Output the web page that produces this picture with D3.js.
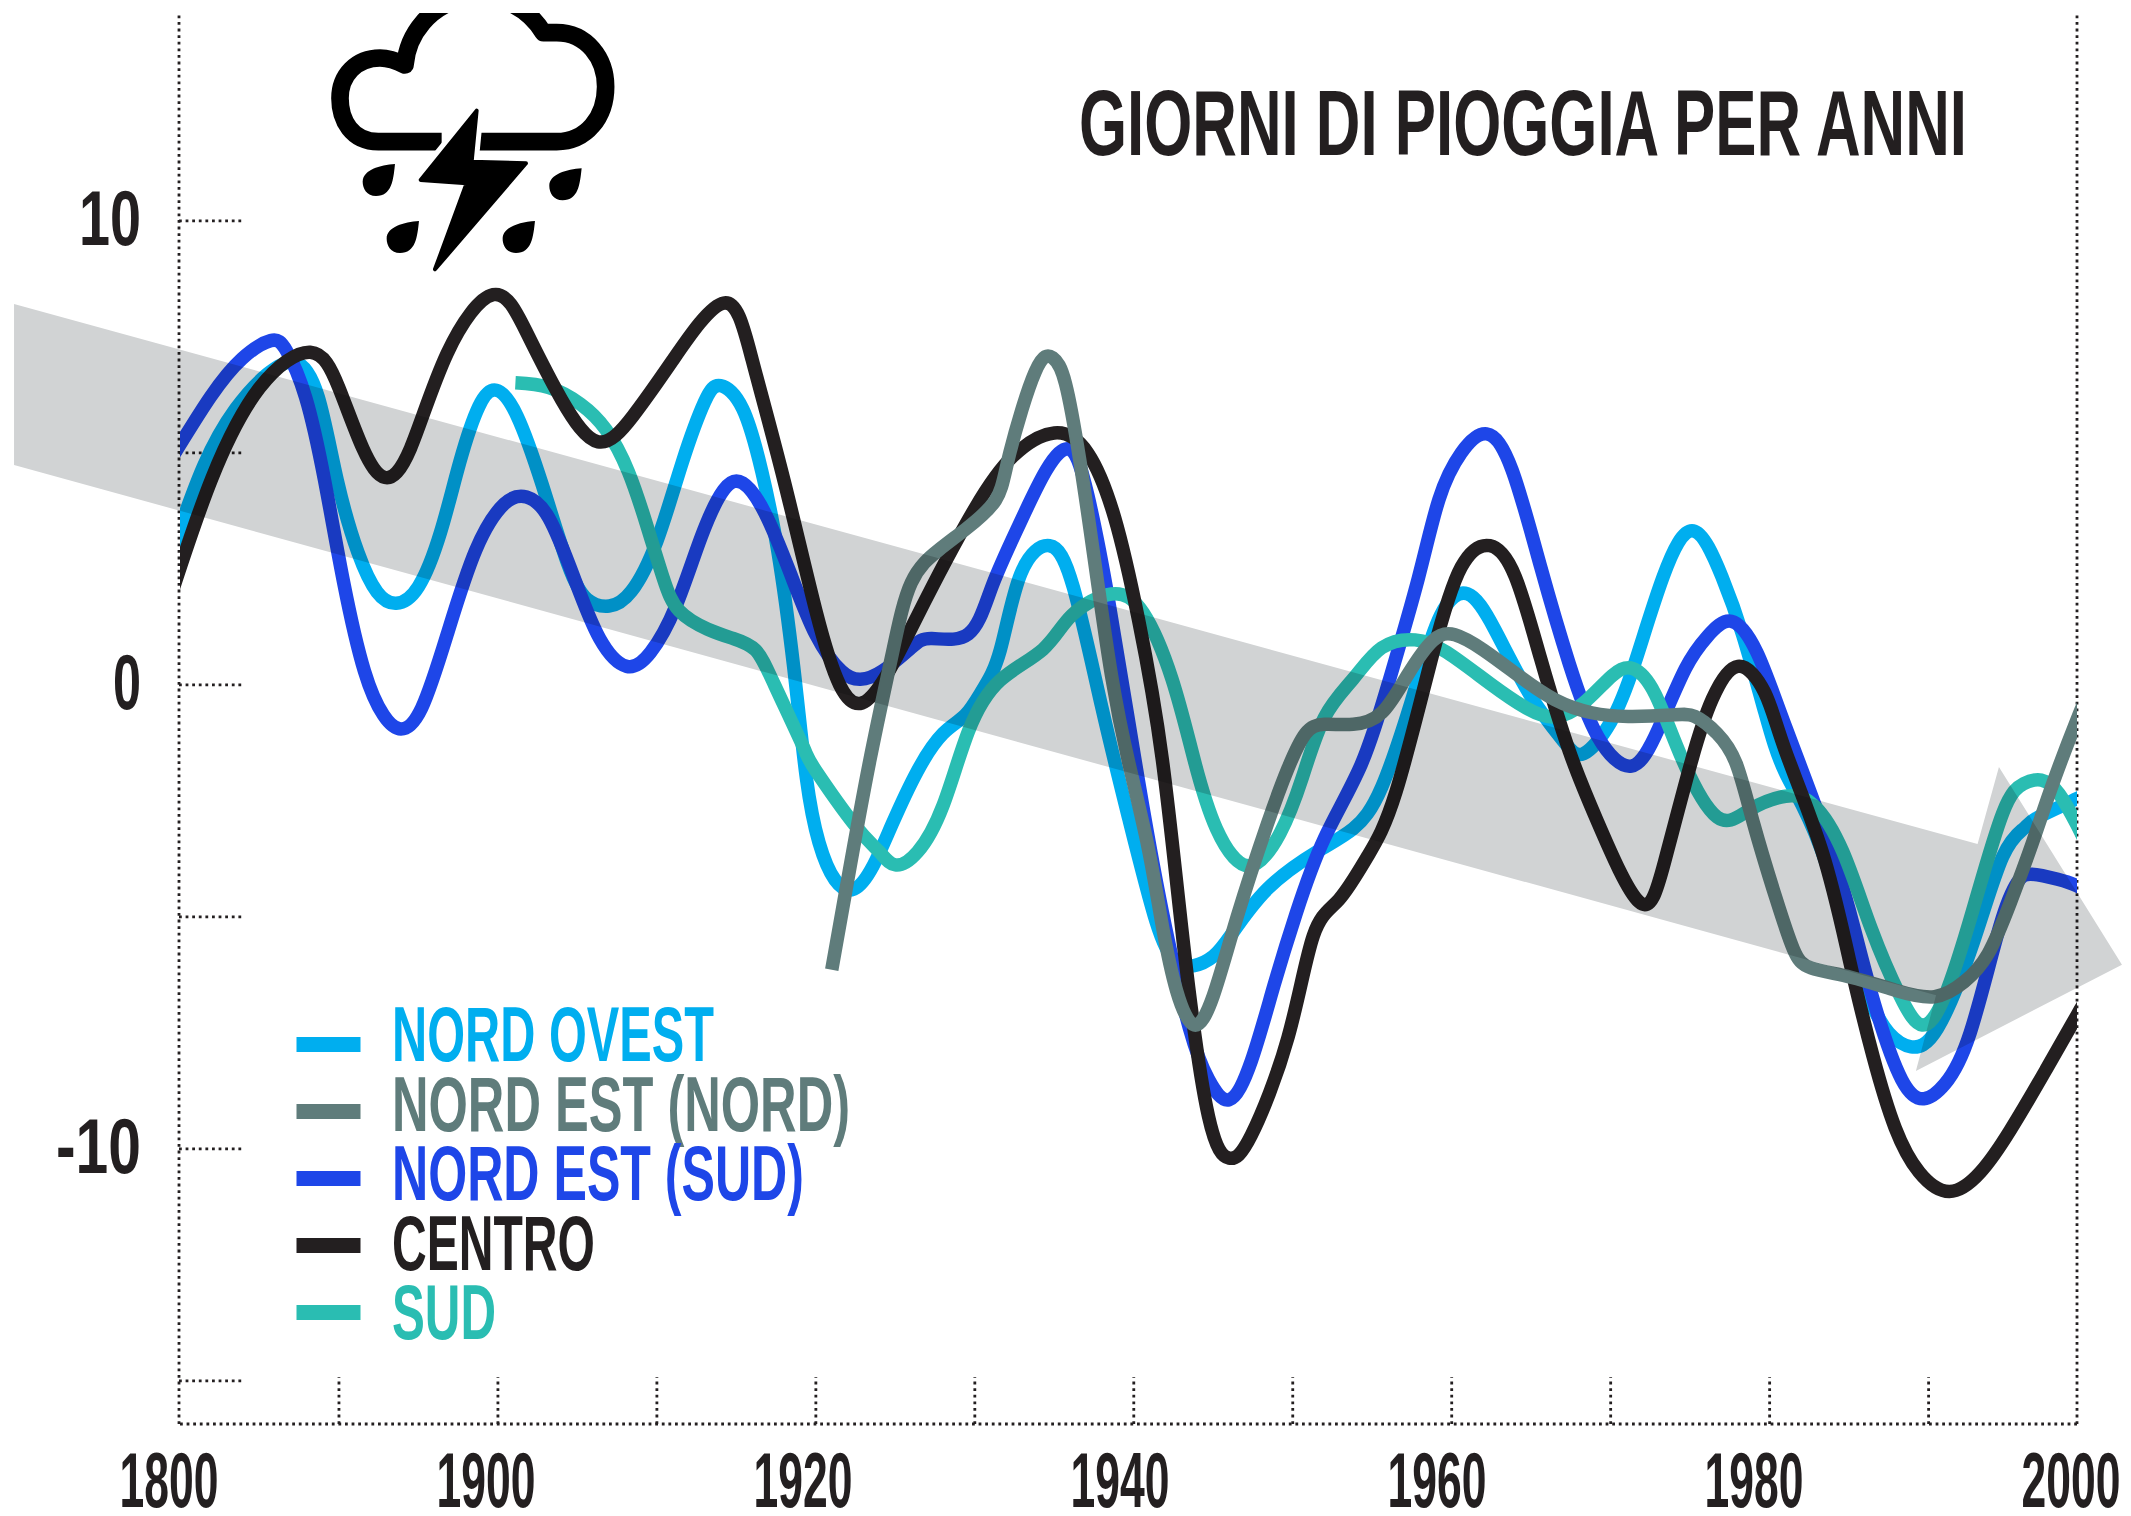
<!DOCTYPE html>
<html lang="it">
<head>
<meta charset="utf-8">
<title>Giorni di pioggia per anni</title>
<script src="https://cdn.jsdelivr.net/npm/d3@7/dist/d3.min.js"></script>
<style>
html,body{margin:0;padding:0;background:#fff}
svg{display:block}
text{font-family:"Liberation Sans Narrow","Liberation Sans",sans-serif;font-weight:700}
</style>
</head>
<body>
<script>
const titleText = "GIORNI DI PIOGGIA PER ANNI";
const yearLabels = ["1800","1900","1920","1940","1960","1980","2000"];
const minorYears = [1890,1900,1910,1920,1930,1940,1950,1960,1970,1980,1990];
const valueTicks = [10,5,0,-5,-10,-15];
const valueLabels = {"10":"10","0":"0","-10":"-10"};

const nordOvestYears = [1879.5,1881.5,1883.5,1885.5,1887.3,1888.7,1889.9,1891.2,1892.4,1893.6,1895,1896.4,1897.6,1898.8,1899.9,1901.2,1902.8,1904.4,1905.6,1907,1908.4,1910,1911.6,1913,1914,1915.4,1916.6,1917.6,1918.6,1919.4,1920.2,1921.2,1922.4,1923.6,1924.8,1926.4,1928,1929.4,1930.5,1931.6,1932.9,1934.7,1936.2,1938,1939.7,1941.4,1942.6,1943.8,1945,1946.1,1948.4,1951.5,1953.8,1955.6,1957.6,1959.3,1961,1962.7,1964.9,1967,1968.3,1970,1971.5,1973.3,1975.2,1977,1978.3,1979.7,1981,1983.2,1985.8,1987.5,1988.9,1990.6,1993,1995,1996.4,1997.4,2000,2000.6];
const nordOvestValues = [2.9,4.73,5.95,6.7,6.95,6.2,4.4,2.85,2.0,1.76,2.12,3.3,4.8,6.0,6.35,5.8,4.3,2.6,1.85,1.7,2.02,3.1,4.8,6.1,6.45,5.95,4.6,2.9,0.4,-2.0,-3.4,-4.2,-4.4,-3.9,-3.0,-1.85,-1.05,-0.65,-0.1,0.75,2.4,3.0,2.1,-0.5,-2.9,-5.1,-5.95,-6.05,-5.85,-5.4,-4.4,-3.6,-3.1,-2.2,-0.2,1.5,1.96,1.2,-0.2,-1.2,-1.48,-0.8,0.45,2.33,3.32,2.33,1.08,-0.59,-1.9,-3.5,-6.3,-7.5,-7.8,-7.4,-5.56,-3.7,-3.1,-2.85,-2.45,-2.3];

const nordEstNordYears = [1921,1922,1923.4,1924.8,1926,1927.7,1929.4,1931.3,1932.2,1933.8,1934.9,1935.7,1936.6,1937.5,1938.6,1939.7,1940.9,1941.8,1942.7,1943.8,1945,1946.5,1948.4,1949.7,1950.8,1952,1953.8,1955.6,1957.2,1958.8,1960.2,1962,1964.2,1966.5,1968.8,1971.1,1973.8,1975.3,1976.7,1977.9,1979,1980.4,1981.5,1982.6,1985.1,1987.9,1990.4,1992.4,1994,1995.5,1997,1998.4,2000,2000.6];
const nordEstNordValues = [-6.14,-4.21,-1.62,0.66,2.2,2.9,3.35,3.98,5.0,6.75,7.05,6.5,4.85,2.75,0.2,-1.7,-3.5,-5.2,-6.6,-7.33,-6.7,-5.0,-3.0,-1.8,-1.05,-0.85,-0.85,-0.6,0.2,0.95,1.08,0.75,0.2,-0.32,-0.6,-0.68,-0.65,-0.68,-1.05,-1.7,-3.0,-4.6,-5.7,-6.1,-6.3,-6.58,-6.72,-6.4,-5.8,-4.7,-3.4,-2.1,-0.75,-0.3];

const nordEstSudYears = [1879.5,1881.9,1883.9,1885.7,1886.7,1887.9,1889.1,1890.3,1891.6,1892.8,1893.9,1895.2,1896.8,1898.6,1900.4,1901.8,1903.2,1904.8,1906.4,1908.1,1909.6,1911.2,1912.8,1914.2,1915.4,1916.8,1918.4,1920,1921.6,1922.8,1924.2,1926,1927.3,1929.6,1931.1,1932.8,1934.5,1936,1937.1,1938.4,1940.1,1941.8,1943.5,1944.7,1946,1947.4,1948.8,1950.2,1952,1954.3,1956.1,1957.9,1959.2,1960.6,1962.2,1963.8,1965.6,1967.4,1969.2,1971.3,1973,1974.7,1976.1,1977.6,1979.2,1981,1983.8,1985.4,1986.7,1988.3,1989.7,1991.1,1992.8,1994.8,1996,1996.9,1998.7,2000,2000.6];
const nordEstSudValues = [4.9,6.2,7.03,7.42,7.2,6.2,4.4,2.2,0.3,-0.65,-0.95,-0.5,1.08,2.9,3.9,4.05,3.6,2.3,1.0,0.4,0.7,1.7,3.2,4.2,4.35,3.7,2.4,1.08,0.3,0.12,0.3,0.8,1.0,1.1,2.14,3.46,4.63,5.07,4.1,1.85,-1.67,-4.9,-7.4,-8.5,-8.94,-8.1,-6.5,-4.94,-3.3,-1.72,0.13,2.3,4.0,5.0,5.41,4.63,2.54,0.45,-1.12,-1.75,-0.95,0.35,1.05,1.37,0.7,-0.9,-3.49,-5.36,-7.0,-8.5,-8.92,-8.6,-7.5,-5.2,-4.25,-4.08,-4.19,-4.33,-4.45];

const centroYears = [1879.5,1882,1885,1888.2,1890,1891.5,1892.9,1894.5,1896.8,1899.7,1901.8,1904,1906.3,1908.5,1911,1914.2,1916,1918,1920,1921.5,1922.9,1924.6,1927,1930,1932.4,1935,1937.1,1938.8,1940.3,1941.8,1943.2,1944.7,1946,1947.4,1949.7,1951.3,1952.9,1954.7,1956.5,1958.8,1960.6,1962.4,1964,1965.6,1967.4,1969.2,1971.8,1973.4,1975.1,1976.4,1978,1979.7,1981,1983.3,1985,1986.5,1987.9,1989.4,1991.4,1993.5,1995.5,1997.9,2000,2000.6];
const centroValues = [2.0,4.45,6.4,7.17,6.4,5.1,4.47,5.1,7.14,8.41,7.6,6.15,5.24,5.8,7.0,8.23,7.0,4.4,1.6,0.0,-0.39,0.3,1.9,3.8,4.93,5.43,5.0,3.6,1.4,-1.62,-5.8,-9.3,-10.2,-9.7,-7.6,-5.4,-4.63,-3.7,-2.3,0.66,2.54,3.0,2.33,0.56,-1.43,-2.97,-4.68,-3.8,-1.62,-0.3,0.4,-0.17,-1.43,-3.59,-5.9,-8.0,-9.55,-10.5,-10.92,-10.5,-9.6,-8.3,-7.12,-6.8];

const sudYears = [1901.1,1903.2,1905.2,1906.8,1908.2,1909.4,1910.4,1911.4,1913.2,1914.8,1916.2,1917.4,1919.2,1920,1922.4,1924,1925,1926.4,1928,1929.6,1931.6,1934.3,1936.1,1938.6,1940.6,1942.4,1943.8,1945.2,1947.2,1949.2,1950.6,1952,1953.8,1955.6,1957.7,1959.7,1962.4,1964.7,1966.5,1968.3,1970.1,1971.4,1972.8,1974.5,1976.7,1978.7,1981,1982.8,1984.6,1986.4,1988.2,1989.6,1991.1,1993,1995,1996.4,1997.6,1998.8,2000,2000.6];
const sudValues = [6.51,6.41,6.05,5.5,4.6,3.4,2.3,1.6,1.2,1.0,0.75,0,-1.33,-1.85,-3.0,-3.6,-3.88,-3.6,-2.6,-1.0,0.1,0.77,1.5,1.96,1.55,0.13,-1.62,-3.1,-3.9,-3.2,-2.0,-0.7,0.13,0.8,0.97,0.7,0.03,-0.5,-0.69,-0.39,0.2,0.35,-0.2,-1.6,-2.85,-2.7,-2.4,-2.6,-3.59,-5.26,-6.7,-7.33,-6.7,-4.83,-2.76,-2.13,-2.05,-2.35,-3.02,-3.4];

const trendYears = [1869.56,1993.3,1994.74,2003.03,1989.2,1990.5,1869.56];
const trendValues = [8.21,-3.43,-1.77,-6.03,-8.32,-6.69,4.74];

const seriesNames = ["NORD OVEST","NORD EST (NORD)","NORD EST (SUD)","CENTRO","SUD"];
const seriesColors = ["#00AEEF","#5F7C7B","#1E46E8","#231F20","#2ABDB2"];
const legendWidths = [322,458,412,203,104];
const drawOrder = [0,2,4,3,1];
const seriesYears = [nordOvestYears,nordEstNordYears,nordEstSudYears,centroYears,sudYears];
const seriesValues = [nordOvestValues,nordEstNordValues,nordEstSudValues,centroValues,sudValues];

const W = 2131, H = 1516;
const ink = "#231F20";
const x = d3.scaleLinear().domain([1880,1990,2000]).range([180,1928.6,2077]);
const y = d3.scaleLinear().domain([-15.93,14.46]).range([1424,14]);
const labelX = d3.scalePoint().domain(yearLabels).range([169,2071]);
const swatchY = d3.scalePoint().domain(seriesNames).range([1044.5,1312.5]);
const legendTextY = d3.scalePoint().domain(seriesNames).range([1061,1339]);

const svg = d3.select("body").append("svg").attr("width",W).attr("height",H).attr("viewBox",`0 0 ${W} ${H}`);
const defs = svg.append("defs");
defs.append("clipPath").attr("id","plot").append("rect")
  .attr("x",x(1880)).attr("y",0).attr("width",x(2000)-x(1880)).attr("height",H);
defs.append("clipPath").attr("id","iconClip").append("rect")
  .attr("x",0).attr("y",39).attr("width",1100).attr("height",900);

const dotted = s => s.attr("stroke","#231F20").attr("stroke-width",2.8).attr("stroke-dasharray","2.8 3.8").attr("fill","none");

// Axes
const yAxis = d3.axisLeft(y).tickValues(valueTicks).tickSizeInner(-63).tickSizeOuter(0).tickPadding(38).offset(0)
  .tickFormat(d => valueLabels[d] || "");
const gy = svg.append("g").attr("transform",`translate(${x(1880)-1},0)`).call(yAxis);
const yRight = d3.axisRight(y).tickValues([]).tickSizeOuter(0).offset(0);
const gyr = svg.append("g").attr("transform",`translate(${x(2000)},0)`).call(yRight);
const xAxis = d3.axisBottom(x).tickValues(minorYears).tickSizeInner(-47).tickSizeOuter(0).tickFormat("").offset(0);
const gx = svg.append("g").attr("transform",`translate(0,${y.range()[0]})`).call(xAxis);
[gy,gyr,gx].forEach(g=>{
  g.attr("font-size",null).attr("font-family",null);
  g.selectAll(".domain,line").call(dotted);
});
const yLabelW = {"10":62,"0":28,"-10":85};
gy.selectAll("text").attr("fill",ink).attr("font-size",78).attr("dy",null).attr("y",24)
  .attr("textLength",d=>yLabelW[d]||null).attr("lengthAdjust","spacingAndGlyphs")
  .each(function(d){ if(!valueLabels[d]) d3.select(this).remove(); });

const xLabelAxis = d3.axisBottom(labelX).tickSize(0).tickPadding(0).offset(0);
const gxl = svg.append("g").attr("transform","translate(0,1507)").call(xLabelAxis);
gxl.select(".domain").remove();
gxl.attr("font-size",null).attr("font-family",null);
gxl.selectAll("text").attr("fill",ink).attr("font-size",78).attr("dy",null).attr("y",0)
  .attr("textLength",99).attr("lengthAdjust","spacingAndGlyphs");

// Series
const line = d3.line().x(d=>x(d[0])).y(d=>y(d[1])).curve(d3.curveNatural);
svg.append("g").attr("clip-path","url(#plot)").selectAll("path")
  .data(drawOrder).join("path")
  .attr("d",i=>line(d3.zip(seriesYears[i],seriesValues[i])))
  .attr("fill","none").attr("stroke",i=>seriesColors[i]).attr("stroke-width",13.5)
  .attr("stroke-linejoin","round").attr("stroke-linecap","butt");

// Trend arrow, multiplied over everything beneath it
svg.append("path")
  .attr("d",d3.line().x(d=>x(d[0])).y(d=>y(d[1]))(d3.zip(trendYears,trendValues))+"Z")
  .attr("fill","#D1D3D4").style("mix-blend-mode","multiply");

// Title
svg.append("text").text(titleText).attr("x",1079).attr("y",155).attr("font-size",93).attr("fill",ink)
  .attr("textLength",888).attr("lengthAdjust","spacingAndGlyphs");

// Legend
svg.append("g").selectAll("rect").data(seriesNames).join("rect")
  .attr("x",296.5).attr("y",d=>swatchY(d)-7.5).attr("width",64).attr("height",15)
  .attr("fill",(d,i)=>seriesColors[i]);
svg.append("g").selectAll("text").data(seriesNames).join("text")
  .text(d=>d).attr("x",392).attr("y",d=>legendTextY(d)).attr("font-size",78)
  .attr("fill",(d,i)=>seriesColors[i]).attr("textLength",(d,i)=>legendWidths[i]).attr("lengthAdjust","spacingAndGlyphs");

// Storm icon
const icon = svg.append("g").attr("transform","translate(300,0) scale(0.3333)").append("g").attr("clip-path","url(#iconClip)");
icon.append("path")
  .attr("d","M425 425 L235 425 C155 425 120 360 120 295 C120 225 170 174 240 174 C270 174 295 185 315 195 A224 224 0 0 1 730 98 C742 98 755 98 770 98 C860 98 917 175 917 260 C917 350 860 425 770 425 L530 425")
  .attr("fill","none").attr("stroke","#000").attr("stroke-width",53).attr("stroke-linejoin","round");
const boltShape = "M530 332 L515 485 L678 490 L405 808 L500 550 L362 540 Z";
icon.append("path").attr("d",boltShape).attr("fill","#fff").attr("stroke","#fff").attr("stroke-width",42).attr("stroke-linejoin","miter");
icon.append("path").attr("d",boltShape).attr("fill","#000").attr("stroke","#000").attr("stroke-width",12).attr("stroke-linejoin","round");
const dropShape = "M285 492 C280 540 275 588 228 588 C200 588 188 565 188 545 C188 510 240 495 285 492 Z";
icon.selectAll("path.drop").data([[0,0],[560,13],[72,171],[420,171]]).join("path").attr("class","drop")
  .attr("d",dropShape).attr("fill","#000").attr("transform",d=>`translate(${d[0]},${d[1]})`);
</script>
</body>
</html>
